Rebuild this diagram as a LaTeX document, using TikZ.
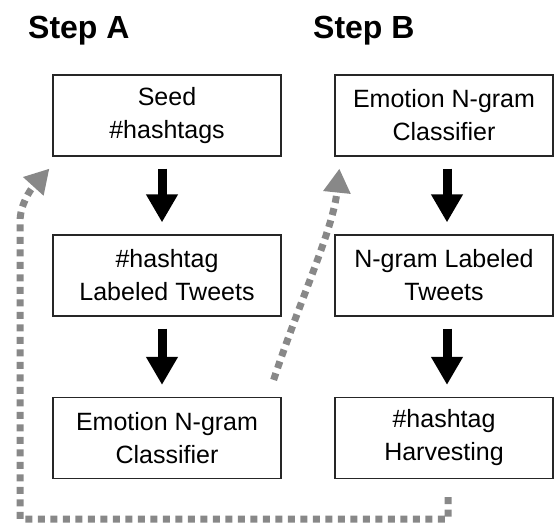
\documentclass[tikz,border=0pt]{standalone}
\usepackage{fontspec}
\setmainfont{Liberation Sans}
\usetikzlibrary{arrows.meta}
\definecolor{dotgray}{RGB}{136,136,136}
\begin{document}
\begin{tikzpicture}[x=1pt,y=-1pt,
  stepbox/.style={draw=black!85,line width=1.2pt,minimum width=228pt,minimum height=81pt,
    align=center,inner sep=0pt,font=\fontsize{25}{33}\selectfont},
  heading/.style={anchor=base west,inner sep=0pt,font=\fontsize{32}{36}\selectfont\bfseries},
  bigarrow/.style={line width=9pt,-{Triangle[width=30pt,length=28pt]},shorten <=12pt,shorten >=12pt},
  loopline/.style={dotgray,line width=7pt,dash pattern=on 7pt off 5.5pt,
    -{Triangle[width=26pt,length=24pt]}}
]
\useasboundingbox (0,0) rectangle (555,525);
\node[heading] (hA) at (28,38) {Step A};
\node[heading] (hB) at (313,38) {Step B};

\node[stepbox] (A1) at (167,115.5) {Seed\\\#hashtags};
\node[stepbox] (A2) at (167,275.5) {\#hashtag\\Labeled Tweets};
\node[stepbox] (A3) at (167,438) {Emotion N-gram\\Classifier};

\node[stepbox,minimum width=218pt] (B1) at (444,115.5) {Emotion N-gram\\Classifier};
\node[stepbox,minimum width=218pt] (B2) at (444,275.5) {N-gram Labeled\\Tweets};
\node[stepbox,minimum width=218pt] (B3) at (444,438) {\#hashtag\\Harvesting};

\draw[bigarrow] ([xshift=-5pt]A1.south) -- ([xshift=-5pt]A2.north);
\draw[bigarrow] ([xshift=-5pt]A2.south) -- ([xshift=-5pt]A3.north);
\draw[bigarrow] ([xshift=3pt]B1.south) -- ([xshift=3pt]B2.north);
\draw[bigarrow] ([xshift=3pt]B2.south) -- ([xshift=3pt]B3.north);

\coordinate (s1) at ([xshift=4pt,yshift=-18pt]B3.south);
\coordinate (t1) at ([xshift=-3pt,yshift=-12pt]A1.south west);
\draw[loopline] (s1) -- (s1 |- 0,519) -- (20,519) -- (20,222)
  .. controls (20,205) and (30,190) .. (t1);

\coordinate (s2) at ([xshift=-8pt,yshift=17pt]A3.north east);
\coordinate (t2) at ([xshift=5pt,yshift=-12pt]B1.south west);
\draw[loopline] (s2) .. controls (300,300) and (333,230) .. (t2);
\end{tikzpicture}
\end{document}
